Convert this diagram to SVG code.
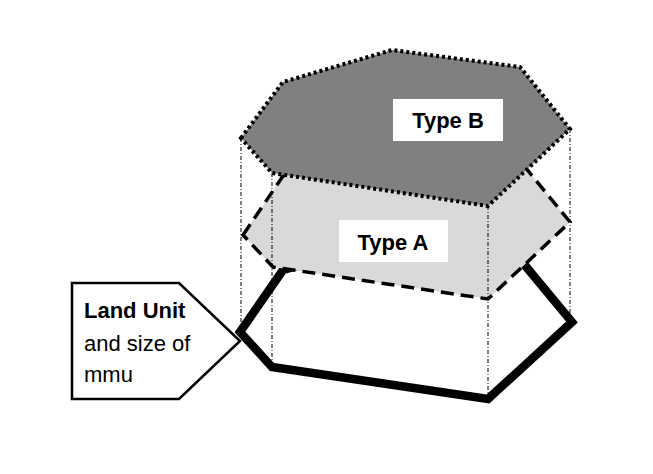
<svg xmlns="http://www.w3.org/2000/svg" width="653" height="474" viewBox="0 0 653 474">
<style>
.land{fill:#fff;stroke:#000;stroke-width:8.5;stroke-linejoin:miter}
.typea{fill:#d9d9d9;stroke:#000;stroke-width:3.5;stroke-dasharray:13 7}
.typeb{fill:#808080;stroke:#000;stroke-width:4;stroke-dasharray:3 3}
.guide{stroke:#000;stroke-width:1;stroke-dasharray:4 2 1 2;fill:none}
.lbl{fill:#fff}
.t{font-family:"Liberation Sans",Arial,sans-serif;font-size:22px;font-weight:bold;fill:#000}
.c{font-family:"Liberation Sans",Arial,sans-serif;font-size:22px;fill:#000}
</style>
<rect width="653" height="474" fill="#fff"/>
<g id="land-unit">
<polygon class="land" points="240,332 283,270 392,240 523,263 572,322 488,399 272,367"/>
</g>
<g id="type-a">
<polygon class="typea" points="243,235 283,176 392,144 520,161 570,222 488,299 273,267"/>
<rect class="lbl" x="339" y="220" width="109" height="42"/>
<text class="t" x="393" y="250" text-anchor="middle">Type A</text>
</g>
<g id="connectors">
<line class="guide" x1="241" y1="138" x2="241" y2="332"/>
<line class="guide" x1="272" y1="173" x2="272" y2="367"/>
<line class="guide" x1="488" y1="206" x2="488" y2="398"/>
<line class="guide" x1="570" y1="129" x2="570" y2="322"/>
</g>
<g id="type-b">
<polygon class="typeb" points="241,138 283,82 392,50 520,67 570,129 488,206 272,173"/>
<rect class="lbl" x="393" y="99" width="110" height="42"/>
<text class="t" x="448" y="128" text-anchor="middle">Type B</text>
</g>
<g id="callout">
<polygon points="72,283 179,283 240,341 179,399 72,399" fill="#fff" stroke="#000" stroke-width="2.5"/>
<text class="c" x="84" y="318" font-weight="bold">Land Unit</text>
<text class="c" x="84" y="351">and size of</text>
<text class="c" x="84" y="382">mmu</text>
</g>
</svg>
